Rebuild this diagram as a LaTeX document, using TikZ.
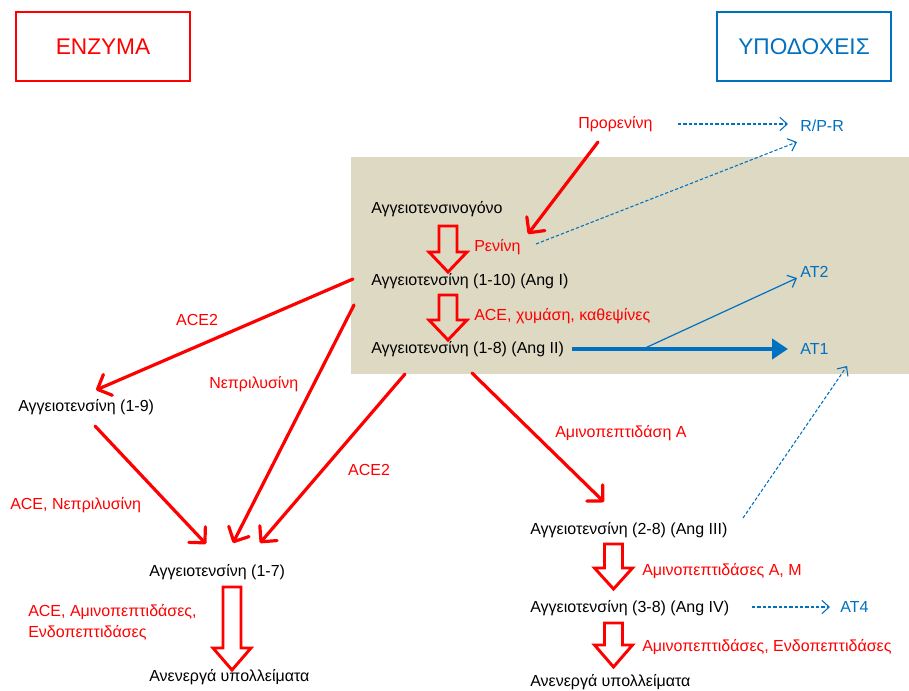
\documentclass[tikz,border=0pt]{standalone}
\usepackage{fontspec}
\setmainfont{Liberation Sans}
\usetikzlibrary{arrows.meta}
\definecolor{myred}{RGB}{255,0,0}
\definecolor{myblue}{RGB}{0,112,192}
\definecolor{shadecol}{RGB}{221,217,195}
\newcommand\hollowarr[4]{%
  \draw[hollow] (#1-9,#2) -- (#1+9,#2) -- (#1+9,#3) -- (#1+19,#3) -- (#1,#4) -- (#1-19,#3) -- (#1-9,#3) -- cycle;}
\begin{document}
\begin{tikzpicture}[x=0.75pt,y=-0.75pt,
  lbl/.style={anchor=west,inner sep=0pt,font=\fontsize{12}{14}\selectfont},
  blk/.style={lbl,text=black},
  enz/.style={lbl,text=myred},
  rec/.style={lbl,text=myblue},
  head/.style={inner sep=0pt,font=\fontsize{17}{20}\selectfont,minimum width=130.5pt,minimum height=51.75pt,line width=2.2pt},
  redarr/.style={draw=myred,line width=2.4pt,line cap=round,-{Straight Barb[length=8.5pt,width=17pt,round]}},
  bluethick/.style={draw=myblue,line width=3pt,-{Triangle[length=12pt,width=15pt]}},
  bluethin/.style={draw=myblue,line width=0.9pt,-{Straight Barb[length=5.5pt,width=10pt]}},
  bluedash/.style={draw=myblue,line width=0.8pt,dash pattern=on 2.5pt off 1.5pt,-{Straight Barb[length=5.5pt,width=10pt]}},
  hollow/.style={draw=myred,line width=2.2pt,line join=miter}
]
\useasboundingbox (0,0) rectangle (909,691);
\fill[shadecol] (351,157) rectangle (909,374);

% header boxes
\node[head,draw=myred,text=myred] (enzymes) at (103,46.5) {ΕΝΖΥΜΑ};
\node[head,draw=myblue,text=myblue] (receptors) at (804,46.5) {ΥΠΟΔΟΧΕΙΣ};

% main chain
\node[blk] (angen) at (371,209) {Αγγειοτενσινογόνο};
\node[enz] (renin) at (474,247) {Ρενίνη};
\node[blk] (ang110) at (371,281) {Αγγειοτενσίνη (1-10) (Ang I)};
\node[enz] (aceetc) at (474,316) {ACE, χυμάση, καθεψίνες};
\node[blk] (ang18) at (371,349) {Αγγειοτενσίνη (1-8) (Ang II)};
\node[enz] (prorenin) at (578,124) {Προρενίνη};
\node[rec] (rpr) at (800,126) {R/P-R};
\node[rec] (at2) at (800,272) {AT2};
\node[rec] (at1) at (800,349) {AT1};

% left branch
\node[enz,anchor=center] (ace2a) at (197,320) {ACE2};
\node[blk] (ang19) at (18,407) {Αγγειοτενσίνη (1-9)};
\node[enz] (nep) at (209,384) {Νεπριλυσίνη};
\node[enz,anchor=center] (ace2b) at (369,470) {ACE2};
\node[enz] (acenep) at (10,505) {ACE, Νεπριλυσίνη};
\node[blk] (ang17) at (149,572) {Αγγειοτενσίνη (1-7)};
\node[enz,align=left,font=\fontsize{12}{15.75}\selectfont] (aceam) at (28,622.5) {ACE, Αμινοπεπτιδάσες,\\Ενδοπεπτιδάσες};
\node[blk] (inact1) at (149,677) {Ανενεργά υπολλείματα};

% right branch
\node[enz] (aminoA) at (555,433) {Αμινοπεπτιδάση Α};
\node[blk] (ang28) at (530,530) {Αγγειοτενσίνη (2-8) (Ang III)};
\node[enz] (aminoAM) at (642,571) {Αμινοπεπτιδάσες Α, Μ};
\node[blk] (ang38) at (530,608) {Αγγειοτενσίνη (3-8) (Ang IV)};
\node[rec] (at4) at (840,607) {AT4};
\node[enz] (aminoEndo) at (642,647) {Αμινοπεπτιδάσες, Ενδοπεπτιδάσες};
\node[blk] (inact2) at (530,682) {Ανενεργά υπολλείματα};

% connector end points
\coordinate (p1s) at (598,142); \coordinate (p1e) at (528,234);
\coordinate (d1s) at (678,124); \coordinate (d1e) at (788,124);
\coordinate (d2s) at (536,244); \coordinate (d2e) at (797,142);
\coordinate (b1s) at (572,349); \coordinate (b1e) at (788,349);
\coordinate (b2s) at (643,349); \coordinate (b2e) at (797,278);
\coordinate (a1s) at (353,279); \coordinate (a1e) at (96,390);
\coordinate (a2s) at (95,426);  \coordinate (a2e) at (206,544);
\coordinate (a3s) at (354,305); \coordinate (a3e) at (233,543);
\coordinate (a4s) at (405,374); \coordinate (a4e) at (260,543);
\coordinate (a5s) at (472,373); \coordinate (a5e) at (604,502);
\coordinate (d3s) at (743,518); \coordinate (d3e) at (847,366);
\coordinate (d4s) at (752,607); \coordinate (d4e) at (830,607);

\draw[redarr] (p1s) -- (p1e);
\draw[bluedash] (d1s) -- (d1e);
\draw[bluedash] (d2s) -- (d2e);
\draw[bluethick] (b1s) -- (b1e);
\draw[bluethin] (b2s) -- (b2e);
\draw[redarr] (a1s) -- (a1e);
\draw[redarr] (a2s) -- (a2e);
\draw[redarr] (a3s) -- (a3e);
\draw[redarr] (a4s) -- (a4e);
\draw[redarr] (a5s) -- (a5e);
\draw[bluedash] (d3s) -- (d3e);
\draw[bluedash] (d4s) -- (d4e);

% hollow step arrows
\hollowarr{448}{226}{252}{272}
\hollowarr{448}{295}{320}{340}
\hollowarr{232}{587}{648}{670}
\hollowarr{613.5}{544}{568}{589}
\hollowarr{613.5}{623}{645}{667}
\end{tikzpicture}
\end{document}
